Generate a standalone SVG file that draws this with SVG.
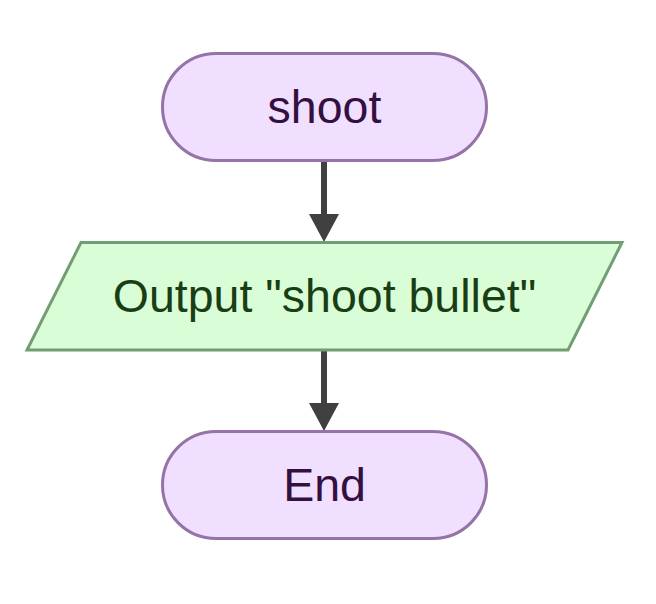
<svg xmlns="http://www.w3.org/2000/svg" width="656" height="604" viewBox="0 0 656 604">
<style>
.term{fill:#F0DFFE;stroke:#9673A6;stroke-width:3}
.io{fill:#D9FDD6;stroke:#739E73;stroke-width:3}
.lbl{font-family:"Liberation Sans",Arial,sans-serif;font-size:46.5px;text-anchor:middle}
.tp{fill:#33103F}
.tg{fill:#1A3D14}
.edge{stroke:#404040;stroke-width:6;fill:none}
.head{fill:#404040}
</style>
<rect width="656" height="604" fill="#ffffff"/>
<g id="connectors">
<line class="edge" x1="324" y1="161" x2="324" y2="216"/>
<polygon class="head" points="309,214 339,214 324,242"/>
<line class="edge" x1="324" y1="350" x2="324" y2="405"/>
<polygon class="head" points="309,403 339,403 324,431"/>
</g>
<g id="shoot">
<rect class="term" x="162.5" y="53.5" width="324" height="107" rx="53.5" ry="53.5"/>
<text class="lbl tp" x="324.5" y="123">shoot</text>
</g>
<g id="output">
<polygon class="io" points="81,242.5 622,242.5 568,350 27,350"/>
<text class="lbl tg" x="324.5" y="312">Output "shoot bullet"</text>
</g>
<g id="end">
<rect class="term" x="162.5" y="431.5" width="324" height="107" rx="53.5" ry="53.5"/>
<text class="lbl tp" x="324.5" y="501">End</text>
</g>
</svg>
